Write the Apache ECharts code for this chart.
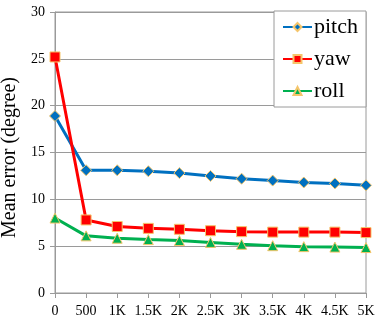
<!DOCTYPE html>
<html><head><meta charset="utf-8">
<script src="https://cdn.jsdelivr.net/npm/echarts@6/dist/echarts.min.js"></script>
<style>html,body{margin:0;padding:0;background:#fff}#c{width:376px;height:322px}</style>
</head><body><div id="c"></div>
<script>
const categories = ['0','500','1K','1.5K','2K','2.5K','3K','3.5K','4K','4.5K','5K'];
const pitch = [18.9, 13.1, 13.1, 13.0, 12.8, 12.5, 12.2, 12.0, 11.8, 11.7, 11.5];
const yaw = [25.2, 7.8, 7.1, 6.9, 6.8, 6.65, 6.55, 6.5, 6.5, 6.5, 6.45];
const roll = [8.0, 6.1, 5.85, 5.7, 5.6, 5.4, 5.2, 5.05, 4.95, 4.9, 4.85];
const yTicks = [0, 5, 10, 15, 20, 25, 30];

const font = 'Liberation Serif';
const chart = echarts.init(document.getElementById('c'), null, {renderer: 'canvas'});
function mk(name, data, color, symbol, size) {
  return {
    name, type: 'line', data, symbol, symbolSize: size,
    lineStyle: {color, width: 3},
    itemStyle: {color, borderColor: '#F5C56B', borderWidth: 1},
    emphasis: {disabled: true}
  };
}
chart.setOption({
  animation: false,
  textStyle: {fontFamily: font},
  grid: {left: 55, right: 10, top: 12, bottom: 29, containLabel: false, outerBoundsMode: 'none',
         show: true, borderColor: '#9a9a9a', borderWidth: 1},
  legend: {
    orient: 'vertical', right: 10, top: 11,
    padding: [5, 8, 5, 8],
    backgroundColor: '#fff', borderColor: '#9a9a9a', borderWidth: 1,
    itemWidth: 29, itemHeight: 10, itemGap: 10,
    textStyle: {fontFamily: font, fontSize: 22, color: '#000', padding: [0, 0, 0, -3]},
    data: ['pitch', 'yaw', 'roll']
  },
  xAxis: {
    type: 'category', data: categories, boundaryGap: false,
    axisLine: {lineStyle: {color: '#9a9a9a'}},
    axisTick: {show: true, length: 5, interval: 0, lineStyle: {color: '#9a9a9a'}},
    axisLabel: {fontFamily: font, fontSize: 14, color: '#000', margin: 11, interval: 0},
    splitLine: {show: false}
  },
  yAxis: {
    type: 'value', min: yTicks[0], max: yTicks[yTicks.length - 1], interval: 5,
    name: 'Mean error (degree)', nameLocation: 'middle', nameGap: 27,
    nameTextStyle: {fontFamily: font, fontSize: 20, color: '#000', padding: [0, 10, 0, 0]},
    axisLine: {show: true, lineStyle: {color: '#9a9a9a'}},
    axisTick: {show: true, length: 5, lineStyle: {color: '#9a9a9a'}},
    axisLabel: {fontFamily: font, fontSize: 14, color: '#000', margin: 10},
    splitLine: {lineStyle: {color: '#9a9a9a'}}
  },
  series: [
    mk('pitch', pitch, '#0070C0', 'diamond', 11),
    mk('yaw', yaw, '#FF0000', 'rect', 10),
    mk('roll', roll, '#00B050', 'triangle', 10)
  ]
});
</script></body></html>
